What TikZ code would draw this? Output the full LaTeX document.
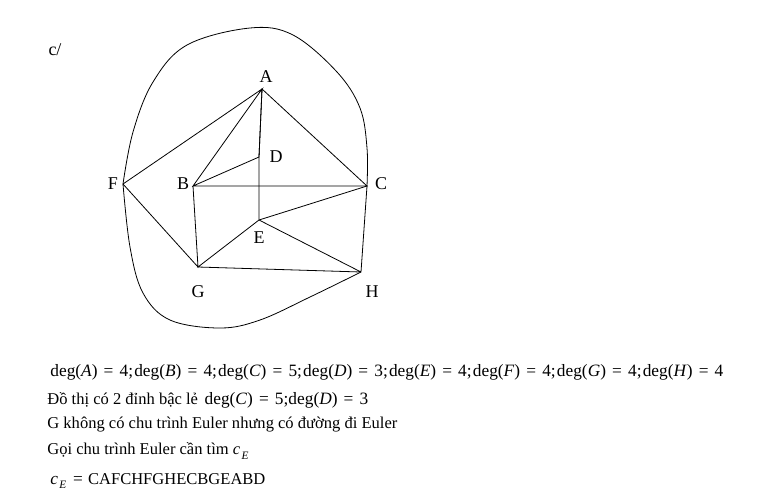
\documentclass[tikz,border=0pt]{standalone}
\usepackage{fontspec}
\setmainfont{Liberation Serif}
\newcommand{\dgx}[2]{deg(\textit{#1})\hspace{4.6pt}=\hspace{4.6pt}#2}
\newcommand{\sm}{;\hspace{0.9pt}}
\newcommand{\cE}{\textit{c}\hspace{1pt}\raisebox{-0.6ex}{\fontsize{8.5}{9}\selectfont\textit{E}}}
\begin{document}
\begin{tikzpicture}[x=0.75pt,y=-0.75pt,line width=0.6pt,
  lbl/.style={font=\fontsize{13.5}{15}\selectfont,inner sep=0pt},
  txt/.style={font=\fontsize{12.4}{14}\selectfont,anchor=west,inner sep=0pt},
  mth/.style={font=\fontsize{13}{15}\selectfont,anchor=west,inner sep=0pt}]
\useasboundingbox (0,0) rectangle (781,490);
% vertices
\coordinate (A) at (262,89);
\coordinate (B) at (193,186);
\coordinate (C) at (367,186);
\coordinate (D) at (259,157);
\coordinate (E) at (259,220);
\coordinate (F) at (123,184);
\coordinate (G) at (198,267);
\coordinate (H) at (361,272);
% labels
\node[lbl] (lc) at (55,50) {c/};
\node[lbl] (lA) at (266,77) {A};
\node[lbl] (lD) at (276,157) {D};
\node[lbl] (lB) at (183,184) {B};
\node[lbl] (lC) at (381,184) {C};
\node[lbl] (lF) at (113,184) {F};
\node[lbl] (lE) at (259,238) {E};
\node[lbl] (lG) at (198,292) {G};
\node[lbl] (lH) at (372,292) {H};
% edges
\draw (F) -- (A) -- (B) -- (D) -- (A) -- (C) -- (B) -- (G) -- (F);
\draw (A) -- (D) -- (E) -- (C) -- (H) -- (G) -- (E) -- (H);
% outer curves
\draw plot[smooth,tension=0.6] coordinates {(F) (133,132) (153,82) (187,45) (250,28) (293,35) (337,72) (360,108) (367,148) (C)};
\draw plot[smooth,tension=0.6] coordinates {(F) (130,247) (143,293) (170,320) (220,328) (260,320) (310,297) (H)};
% text
\node[mth] (t1) at (50,372) {\dgx{A}{4}\sm\dgx{B}{4}\sm\dgx{C}{5}\sm\dgx{D}{3}\sm\dgx{E}{4}\sm\dgx{F}{4}\sm\dgx{G}{4}\sm\dgx{H}{4}};
\node[txt] (t2) at (47,400) {Đồ thị có 2 đỉnh bậc lẻ\hspace{5pt}{\fontsize{13}{15}\selectfont\dgx{C}{5};\dgx{D}{3}}};
\node[txt] (t3) at (47,425) {G không có chu trình Euler nhưng có đường đi Euler};
\node[txt] (t4) at (47,451) {Gọi chu trình Euler cần tìm \cE};
\node[mth] (t5) at (50,481) {\cE\hspace{5pt}=\hspace{4pt}{\fontsize{12.4}{14}\selectfont CAFCHFGHECBGEABD}};
\end{tikzpicture}
\end{document}
